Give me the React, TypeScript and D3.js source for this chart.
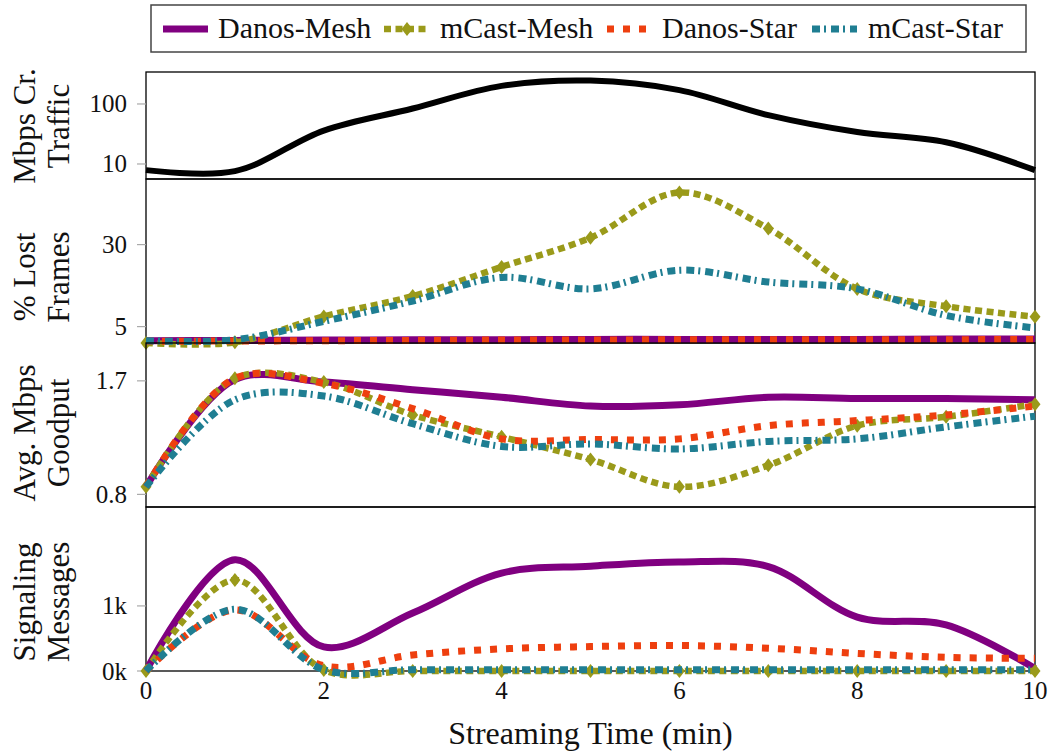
import React from 'react';
import * as d3 from 'd3';

// streaming time axis (min)
const minutes = [0, 1, 2, 3, 4, 5, 6, 7, 8, 9, 10];
const xTicks = [0, 2, 4, 6, 8, 10];

// panel 1: cross traffic (Mbps, log)
const crossTraffic = [7.9, 7.6, 36, 84, 200, 245, 170, 65, 34, 23, 7.9];

// panel 2: % lost frames
const lostDanosMesh = [0.7, 0.8, 0.9, 1.0, 1.0, 1.1, 1.1, 1.1, 1.1, 1.2, 1.2];
const lostMcastMesh = [0, 0.2, 8.1, 14.3, 23.2, 32.1, 45.9, 34.9, 16.5, 11.2, 8.0];
const lostDanosStar = [0.5, 0.6, 0.7, 0.8, 0.9, 0.9, 1.0, 1.0, 1.0, 1.0, 1.1];
const lostMcastStar = [0.7, 1.0, 6.6, 12.8, 20.0, 16.5, 22.2, 18.6, 16.5, 8.4, 4.6];

// panel 3: avg goodput (Mbps)
const gpDanosMesh = [0.86, 1.71, 1.69, 1.63, 1.57, 1.5, 1.51, 1.57, 1.56, 1.56, 1.55];
const gpMcastMesh = [0.86, 1.72, 1.69, 1.43, 1.256, 1.077, 0.86, 1.03, 1.345, 1.415, 1.515];
const gpDanosStar = [0.86, 1.72, 1.68, 1.48, 1.24, 1.235, 1.24, 1.345, 1.385, 1.43, 1.5];
const gpMcastStar = [0.86, 1.55, 1.58, 1.36, 1.18, 1.2, 1.16, 1.22, 1.24, 1.335, 1.42];

// panel 4: signaling messages
const sigDanosMesh = [0, 1710, 370, 890, 1505, 1610, 1675, 1605, 828, 708, 40];
const sigMcastMesh = [0, 1400, 15, 0, 0, 0, 0, 0, 0, 0, 0];
const sigDanosStar = [0, 940, 80, 246, 340, 375, 392, 350, 270, 210, 195];
const sigMcastStar = [0, 950, 20, 20, 20, 20, 20, 20, 20, 20, 20];

const seriesNames = ['Danos-Mesh', 'mCast-Mesh', 'Danos-Star', 'mCast-Star'];

const FONT = 'Liberation Serif, DejaVu Serif, serif';

const STYLES = [
  { color: '#800080', width: 7, dash: undefined as string | undefined, marker: false },
  { color: '#9a9a1a', width: 6.5, dash: '7 4.5', marker: true },
  { color: '#ee3f0f', width: 7, dash: '7 9', marker: false },
  { color: '#1f7e92', width: 7, dash: '8 4 2 5', marker: false },
];

const X0 = 146;
const X1 = 1035;

const Diamond = ({ cx, cy, color }: { cx: number; cy: number; color: string }) => (
  <path d={`M${cx},${cy - 7}L${cx + 5.5},${cy}L${cx},${cy + 7}L${cx - 5.5},${cy}Z`} fill={color} />
);

export default function App() {
  const x = d3.scaleLinear().domain([0, 10]).range([X0, X1]);

  const panels = [
    {
      top: 72, bottom: 179,
      y: d3.scaleLog().domain([5.62, 341]).range([179, 72]),
      ticks: [{ v: 10, t: '10' }, { v: 100, t: '100' }],
      label: ['Mbps Cr.', 'Traffic'], labelY: 126,
      series: [{ values: crossTraffic, style: { color: '#000', width: 6, dash: undefined, marker: false } }],
    },
    {
      top: 179, bottom: 343,
      y: d3.scaleLinear().domain([0, 50]).range([343, 179]),
      ticks: [{ v: 5, t: '5' }, { v: 30, t: '30' }],
      label: ['% Lost', 'Frames'], labelY: 277,
      series: [lostDanosMesh, lostMcastMesh, lostDanosStar, lostMcastStar].map((values, i) => ({ values, style: STYLES[i] })),
    },
    {
      top: 343, bottom: 507,
      y: d3.scaleLinear().domain([0.7, 2.0]).range([507, 343]),
      ticks: [{ v: 0.8, t: '0.8' }, { v: 1.7, t: '1.7' }],
      label: ['Avg. Mbps', 'Goodput'], labelY: 433,
      series: [gpDanosMesh, gpMcastMesh, gpDanosStar, gpMcastStar].map((values, i) => ({ values, style: STYLES[i] })),
    },
    {
      top: 507, bottom: 671,
      y: d3.scaleLinear().domain([0, 2520]).range([671, 507]),
      ticks: [{ v: 0, t: '0k' }, { v: 1000, t: '1k' }],
      label: ['Signaling', 'Messages'], labelY: 602,
      series: [sigDanosMesh, sigMcastMesh, sigDanosStar, sigMcastStar].map((values, i) => ({ values, style: STYLES[i] })),
    },
  ];

  // legend layout: sample start/end and text x
  const legendPos = [
    { s: 163, e: 208, t: 218 },
    { s: 384, e: 430, t: 440 },
    { s: 607, e: 648, t: 662 },
    { s: 812, e: 857, t: 868 },
  ];

  return (
    <svg width={1056} height={751} style={{ position: 'absolute', left: 0, top: 0, background: '#fff' }}>
      {/* legend */}
      <rect x={151} y={5} width={875} height={47} fill="#fff" stroke="#444" strokeWidth={1.5} />
      {seriesNames.map((name, i) => {
        const st = STYLES[i];
        const p = legendPos[i];
        return (
          <g key={name}>
            <line x1={p.s} x2={p.e} y1={29} y2={29} stroke={st.color} strokeWidth={st.width} strokeDasharray={st.dash} />
            {st.marker && <Diamond cx={(p.s + p.e) / 2} cy={29} color={st.color} />}
            <text x={p.t} y={37.5} fontSize={30} fill="#111" fontFamily={FONT}>{name}</text>
          </g>
        );
      })}

      {panels.map((pn, pi) => {
        const line = d3.line<number>()
          .x((_, i) => x(minutes[i]))
          .y((d) => pn.y(d))
          .curve(d3.curveCatmullRom.alpha(0.5));
        return (
          <g key={pi}>
            <rect x={X0} y={pn.top} width={X1 - X0} height={pn.bottom - pn.top} fill="none" stroke="#000" strokeWidth={1.3} />
            {pn.ticks.map((tk) => (
              <g key={tk.t}>
                <line x1={137} x2={X0} y1={pn.y(tk.v)} y2={pn.y(tk.v)} stroke="#aaa" strokeWidth={1.2} />
                <text x={127} y={pn.y(tk.v)} dy="0.34em" textAnchor="end" fontSize={25} fill="#111" fontFamily={FONT}>{tk.t}</text>
              </g>
            ))}
            {pn.label.map((ln, li) => (
              <text key={ln} transform={`translate(${li === 0 ? 35 : 69},${pn.labelY}) rotate(-90)`}
                textAnchor="middle" fontSize={31} fill="#111" fontFamily={FONT}>{ln}</text>
            ))}
            {pn.series.map((s, si) => (
              <g key={si}>
                <path d={line(s.values) || ''} fill="none" stroke={s.style.color} strokeWidth={s.style.width}
                  strokeDasharray={s.style.dash} />
                {s.style.marker && s.values.map((v, i) => (
                  <Diamond key={i} cx={x(minutes[i])} cy={pn.y(v)} color={s.style.color} />
                ))}
              </g>
            ))}
          </g>
        );
      })}

      {/* x axis */}
      {xTicks.map((t) => (
        <text key={t} x={x(t)} y={699} textAnchor="middle" fontSize={25} fill="#111" fontFamily={FONT}>{t}</text>
      ))}
      <text x={(X0 + X1) / 2} y={744} textAnchor="middle" fontSize={32} fill="#111" fontFamily={FONT}>Streaming Time (min)</text>
    </svg>
  );
}
